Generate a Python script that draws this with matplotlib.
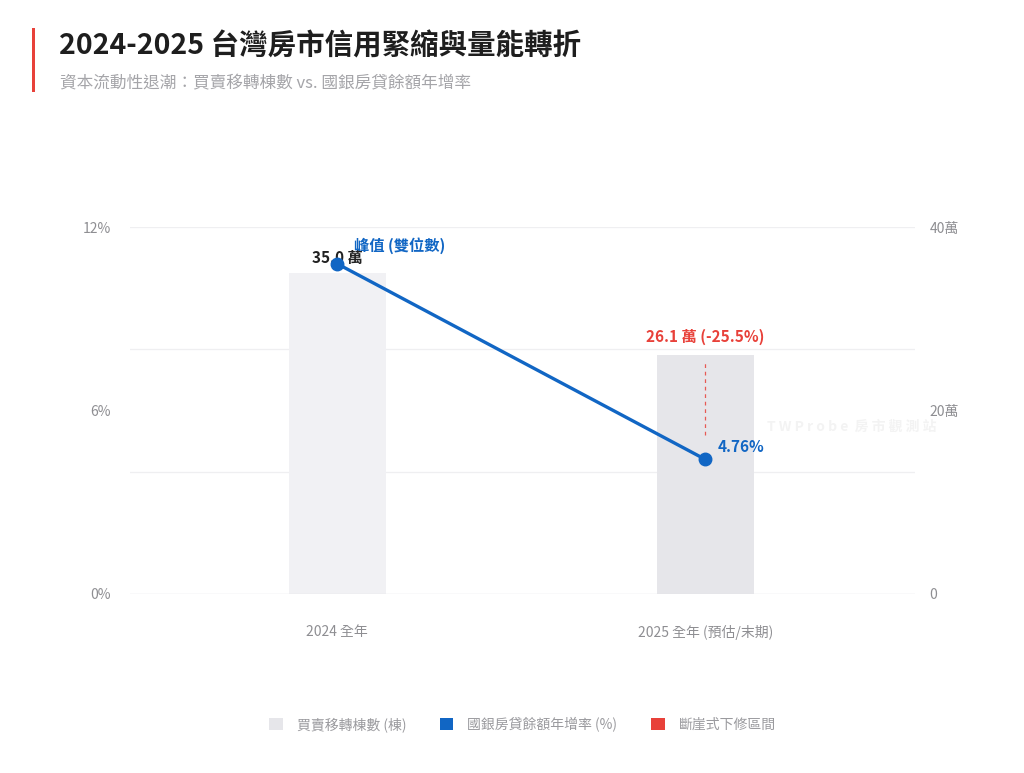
"""
2024-2025 台灣房市信用緊縮與量能轉折
買賣移轉棟數 (柱) vs. 國銀房貸餘額年增率 (線)
"""

import matplotlib
matplotlib.use('Agg')
import matplotlib.pyplot as plt
from matplotlib.patches import Patch, Rectangle

FONT = ['Noto Sans CJK TC', 'DejaVu Sans']
plt.rcParams['font.family'] = FONT

# ===================== 資料 =====================
categories   = ['2024 全年', '2025 全年 (預估/末期)']
transfers    = [35.0, 26.1]         # 買賣移轉棟數 (萬棟)
loan_growth  = [10.8, 4.4]          # 國銀房貸餘額年增率 (%) - 依圖上點位讀取
growth_label = ['峰值 (雙位數)', '4.76%']
bar_label    = ['35.0 萬', '26.1 萬 (-25.5%)']
drop_range   = [25.5, 17.3]         # 斷崖式下修區間 (萬)
left_ticks   = [0, 6, 12]
right_ticks  = [0, 20, 40]

BLUE  = '#1166c4'
RED   = '#e8413a'
GRAY  = '#8e8e92'
BAR_C = ['#f1f1f4', '#e6e6ea']

fig = plt.figure(figsize=(10.24, 7.73), dpi=100)
fig.patch.set_facecolor('white')

# 標題區
fig.add_artist(Rectangle((0.031, 0.881), 0.0035, 0.083, transform=fig.transFigure,
                         color=RED, lw=0))
fig.text(0.058, 0.940, '2024-2025 台灣房市信用緊縮與量能轉折', fontsize=20.5,
         fontweight='bold', color='#1e1e1e', va='center')
fig.text(0.059, 0.892, '資本流動性退潮：買賣移轉棟數 vs. 國銀房貸餘額年增率', fontsize=12,
         color='#a5a5a9', va='center')

ax1 = fig.add_axes([0.127, 0.2316, 0.767, 0.4747])
ax2 = ax1.twinx()
ax2.set_zorder(ax1.get_zorder() - 1)
ax1.patch.set_visible(False)

x = list(range(len(categories)))
xlim = (-0.5625, 1.5707)

# 柱狀：移轉棟數 (右軸)
ax2.bar(x, transfers, width=0.264, color=BAR_C, zorder=2)
ax2.set_ylim(0, 40)
ax2.set_xlim(*xlim)
for y in [40 / 3, 80 / 3, 40]:
    ax2.axhline(y, color='#efeff1', lw=0.9, zorder=0)
ax2.axhline(0, color='#e2e2e6', lw=1.0, zorder=3)
ax2.set_yticks(right_ticks)
ax2.set_yticklabels(['0', '20萬', '40萬'])
ax2.vlines(x[1], drop_range[1], drop_range[0], colors=RED, linestyles=(0, (3, 3)),
           lw=0.9, alpha=0.85, zorder=3)

# 折線：房貸年增率 (左軸)
ax1.plot(x, loan_growth, color=BLUE, lw=2.4, marker='o', markersize=9, zorder=5)
ax1.set_ylim(0, 12)
ax1.set_xlim(*xlim)
ax1.set_yticks(left_ticks)
ax1.set_yticklabels([f'{t}%' for t in left_ticks])
ax1.set_xticks(x)
ax1.set_xticklabels(categories)

for ax in (ax1, ax2):
    for s in ax.spines.values():
        s.set_visible(False)
    ax.tick_params(length=0, colors=GRAY, labelsize=10)
ax1.tick_params(axis='y', pad=14)
ax2.tick_params(axis='y', pad=10)
ax1.tick_params(axis='x', pad=22)

# 標註
ax2.text(x[0], transfers[0] + 0.8, bar_label[0], ha='center', va='bottom',
         fontsize=11, fontweight='bold', color='#222222', zorder=6)
ax2.text(x[1], transfers[1] + 1.0, bar_label[1], ha='center', va='bottom',
         fontsize=11, fontweight='bold', color=RED)
ax1.annotate(growth_label[0], (x[0], loan_growth[0]), xytext=(12, 7),
             textcoords='offset points', fontsize=11, fontweight='bold', color=BLUE,
             ha='left', va='bottom', zorder=6)
ax1.annotate(growth_label[1], (x[1], loan_growth[1]), xytext=(9, 3),
             textcoords='offset points', fontsize=11, fontweight='bold', color=BLUE,
             ha='left', va='bottom', zorder=6)

# 浮水印
fig.text(0.832, 0.448, 'T W P r o b e  房 市 觀 測 站', fontsize=10, fontweight='bold',
         color='#f3f3f3', ha='center', va='center', zorder=0)

# 圖例
handles = [
    Patch(facecolor='#e6e6ea', edgecolor='none', label='買賣移轉棟數 (棟)'),
    Patch(facecolor=BLUE, edgecolor='none', label='國銀房貸餘額年增率 (%)'),
    Patch(facecolor=RED, edgecolor='none', label='斷崖式下修區間'),
]
leg = fig.legend(handles=handles, loc='center', bbox_to_anchor=(0.51, 0.063), ncol=3,
                 frameon=False, fontsize=10, handlelength=1.0, handleheight=1.0,
                 columnspacing=2.4, handletextpad=1.0)
for t in leg.get_texts():
    t.set_color('#9a9a9e')

plt.savefig('out.png', dpi=100, facecolor='white')
plt.close()
